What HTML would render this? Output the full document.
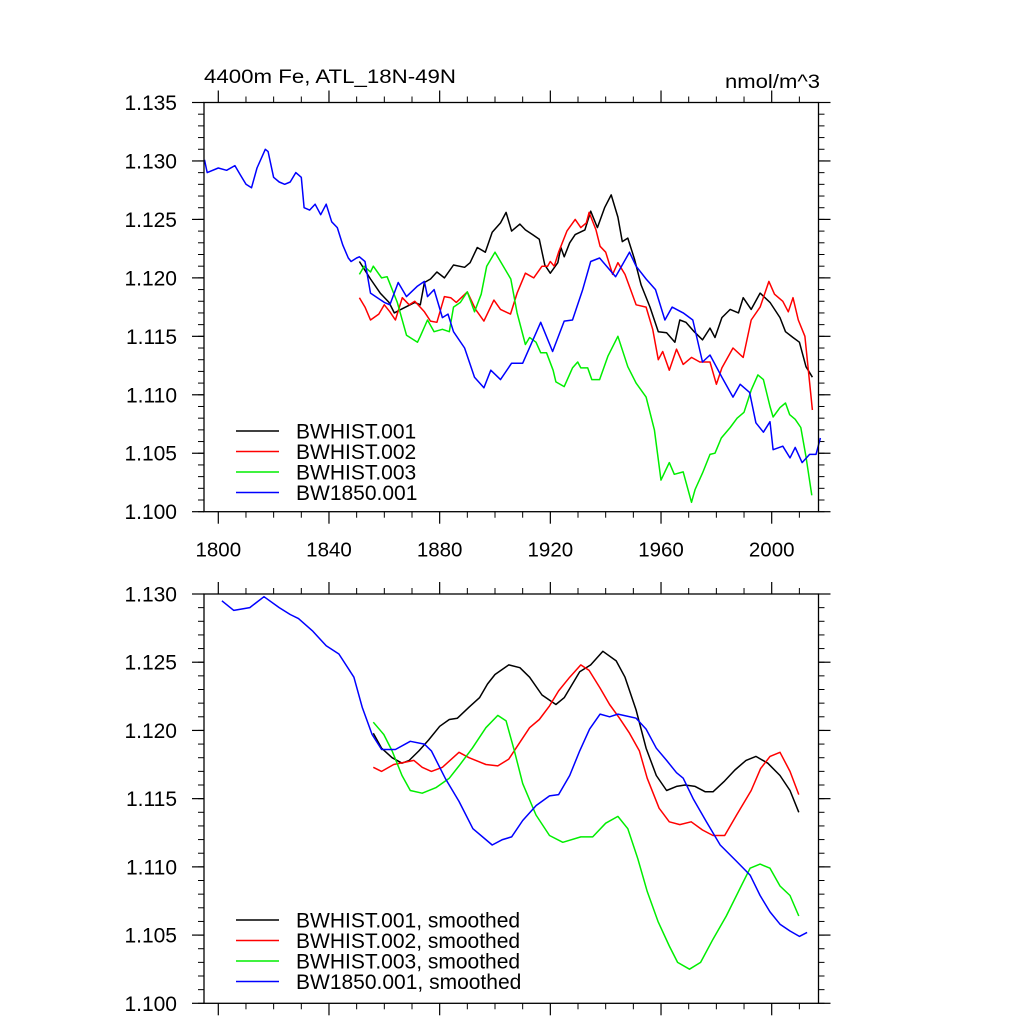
<!DOCTYPE html>
<html><head><meta charset="utf-8"><style>
html,body{margin:0;padding:0;background:#fff;}
svg{display:block;font-family:"Liberation Sans",Arial,sans-serif;}
</style></head><body>
<svg id="chart" width="1024" height="1024" viewBox="0 0 1024 1024">
<text x="204" y="83" font-size="19.5" textLength="252" lengthAdjust="spacingAndGlyphs">4400m Fe, ATL_18N-49N</text>
<text x="725" y="88" font-size="19.5" textLength="95" lengthAdjust="spacingAndGlyphs">nmol/m^3</text>
<g id="top"></g>
<g id="bot"></g>
</svg>
<script>
// ---- X axis (shared) ----
const xMajorTicks = [1800, 1840, 1880, 1920, 1960, 2000];
const xMinorTicks = [1810, 1820, 1830, 1850, 1860, 1870, 1890, 1900, 1910, 1930, 1940, 1950, 1970, 1980, 1990, 2010];
// ---- Y ticks ----
const topYTicks = [1.100, 1.105, 1.110, 1.115, 1.120, 1.125, 1.130, 1.135];
const topYLabels = ["1.100", "1.105", "1.110", "1.115", "1.120", "1.125", "1.130", "1.135"];
const botYTicks = [1.100, 1.105, 1.110, 1.115, 1.120, 1.125, 1.130];
const botYLabels = ["1.100", "1.105", "1.110", "1.115", "1.120", "1.125", "1.130"];

// ---- Top panel series ----
const topBlueYears = [1795,1796,1800,1803,1806,1808,1810,1812,1814,1817,1818,1820,1822,1824,1826,1828,1830,1831,1833,1835,1837,1839,1841,1843,1845,1847,1848,1850,1851,1853,1855,1860,1862,1865,1868,1872,1874.5,1875.6,1878,1881,1883,1885,1889,1892.6,1896,1898.5,1902,1906,1910,1916.5,1920.8,1925,1928,1931.7,1934.6,1937.8,1943.6,1948.6,1951,1954.6,1958,1961.4,1964,1968,1971.5,1975,1977.7,1982,1986,1988.6,1992,1994.3,1997,1999.4,2000.5,2004,2006.6,2008.5,2011,2013.7,2016,2017.6];
const topBlueValues = [1.1301,1.1290,1.1294,1.1292,1.1296,1.1288,1.1280,1.1277,1.1294,1.1310,1.1308,1.1286,1.1282,1.1280,1.1282,1.1290,1.1286,1.1260,1.1258,1.1263,1.1254,1.1263,1.1248,1.1243,1.1228,1.1217,1.1214,1.1217,1.1218,1.1214,1.1187,1.1179,1.1177,1.1196,1.1184,1.1193,1.1197,1.1184,1.1190,1.1166,1.1169,1.1154,1.1140,1.1115,1.1106,1.1121,1.1113,1.1127,1.1127,1.1162,1.1137,1.1163,1.1164,1.1190,1.1214,1.1217,1.1201,1.1222,1.1210,1.1199,1.1190,1.1164,1.1175,1.1170,1.1164,1.1128,1.1134,1.1115,1.1098,1.1109,1.1102,1.1076,1.1068,1.1077,1.1053,1.1056,1.1046,1.1055,1.1042,1.1049,1.1049,1.1063];

const topBlackYears = [1851,1855,1858.5,1861.7,1863.6,1866,1871,1873,1874.5,1876.7,1879,1881.7,1885,1889,1891,1893.6,1896.5,1899,1902,1904,1906,1909,1911,1913.6,1916,1918,1920,1922.7,1923.8,1925,1927,1929,1932.5,1934.6,1937,1939.6,1942,1944.4,1946,1948,1950.4,1952.8,1956,1959,1962,1965,1966.8,1969,1972,1975,1977.7,1979.5,1982,1985,1988,1989.7,1992.6,1995.8,1999.4,2003,2005,2007.7,2010,2012.4,2014.7];
const topBlackValues = [1.1214,1.1199,1.1187,1.1179,1.1170,1.1173,1.1179,1.1177,1.1196,1.1199,1.1205,1.1200,1.1211,1.1209,1.1213,1.1226,1.1222,1.1239,1.1247,1.1256,1.1240,1.1246,1.1241,1.1237,1.1233,1.1211,1.1204,1.1213,1.1226,1.1218,1.1230,1.1237,1.1241,1.1257,1.1243,1.1260,1.1271,1.1252,1.1231,1.1234,1.1216,1.1194,1.1175,1.1154,1.1153,1.1145,1.1164,1.1162,1.1154,1.1147,1.1157,1.1149,1.1166,1.1173,1.1170,1.1183,1.1173,1.1187,1.1179,1.1166,1.1154,1.1149,1.1145,1.1124,1.1115];

const topRedYears = [1851,1853,1855,1858,1860,1862,1864,1866.5,1869,1871,1874.5,1876.7,1879,1881.7,1884,1886,1890,1893,1896,1899.6,1902,1905.6,1908,1911,1914,1917,1919,1920,1921.4,1923,1926,1929,1931,1933,1934,1936.5,1938,1940,1942.5,1944.4,1947,1949,1951,1954.6,1957,1959,1960.6,1963,1965.6,1968,1971,1974,1977.7,1980,1982,1986,1989.7,1992.6,1995.8,1999,2001,2004,2006,2007.7,2009.6,2012,2014.7];
const topRedValues = [1.1183,1.1175,1.1164,1.1169,1.1177,1.1171,1.1164,1.1183,1.1177,1.1180,1.1171,1.1163,1.1162,1.1184,1.1183,1.1179,1.1188,1.1173,1.1163,1.1181,1.1173,1.1169,1.1187,1.1204,1.1200,1.1210,1.1210,1.1214,1.1210,1.1222,1.1240,1.1250,1.1243,1.1247,1.1256,1.1241,1.1227,1.1222,1.1203,1.1213,1.1203,1.1190,1.1177,1.1175,1.1156,1.1130,1.1137,1.1121,1.1139,1.1126,1.1132,1.1128,1.1128,1.1109,1.1123,1.1140,1.1132,1.1164,1.1175,1.1197,1.1186,1.1180,1.1171,1.1183,1.1164,1.1150,1.1087];

const topGreenYears = [1851,1852.7,1855,1856,1859,1861,1864.7,1868,1872,1873,1875.6,1878,1881,1883.5,1885,1887.5,1890,1892.6,1895,1897,1900,1903,1905.7,1908,1911,1912.5,1914.8,1916.5,1918.6,1921,1922,1925,1928,1929.9,1931,1933.5,1935,1937.8,1940.8,1944.4,1948,1951,1954.6,1957.6,1960,1963,1964.8,1968,1971,1972.3,1975,1977.7,1979.5,1981.8,1985,1987.5,1990,1992.6,1995,1997,1999.4,2000.5,2003,2005,2006.5,2008.5,2010.5,2012.4,2014.5];
const topGreenValues = [1.1203,1.1210,1.1205,1.1210,1.1200,1.1201,1.1179,1.1151,1.1145,1.1150,1.1164,1.1154,1.1156,1.1154,1.1175,1.1179,1.1188,1.1171,1.1186,1.1210,1.1222,1.1210,1.1199,1.1170,1.1143,1.1149,1.1145,1.1136,1.1136,1.1121,1.1111,1.1107,1.1123,1.1128,1.1123,1.1123,1.1113,1.1113,1.1133,1.1150,1.1124,1.1110,1.1098,1.1070,1.1027,1.1042,1.1032,1.1034,1.1008,1.1019,1.1033,1.1049,1.1050,1.1063,1.1072,1.1080,1.1085,1.1104,1.1117,1.1113,1.1090,1.1081,1.1089,1.1093,1.1083,1.1079,1.1072,1.1047,1.1014];

// ---- Bottom panel (smoothed) series ----
const botBlueYears = [1801.3,1805.6,1811.4,1816.5,1822,1826,1829,1834,1839,1843.6,1849,1852,1855.6,1859,1864,1869.4,1874.5,1877,1882,1887,1892,1899,1902.7,1906,1910,1914.9,1919.7,1923,1927,1930.6,1934.2,1938,1941.4,1944.4,1951,1954.6,1958.3,1962,1965.6,1968,1971.6,1976.4,1981.4,1987.3,1992.2,1995.8,1999.4,2003,2006.6,2010,2012.8];
const botBlueValues = [1.1295,1.1288,1.1290,1.1298,1.1290,1.1285,1.1282,1.1273,1.1262,1.1256,1.1239,1.1217,1.1197,1.1186,1.1186,1.1192,1.1190,1.1185,1.1165,1.1148,1.1128,1.1116,1.1120,1.1122,1.1134,1.1145,1.1152,1.1153,1.1167,1.1185,1.1201,1.1212,1.1210,1.1212,1.1209,1.1201,1.1187,1.1178,1.1169,1.1165,1.1150,1.1133,1.1116,1.1104,1.1094,1.1079,1.1067,1.1058,1.1053,1.1049,1.1052];

const botBlackYears = [1856,1859,1862.8,1866.4,1869,1872.5,1876,1880,1883.5,1886.4,1890.6,1894.4,1897.3,1900,1905,1909,1912.5,1917,1922,1925,1930.6,1934.6,1939,1943.8,1947,1951,1954.6,1958.3,1962,1965.6,1968.7,1972.3,1976,1978.8,1983,1986.7,1990.7,1994.3,1998.6,2003,2006.6,2009.8];
const botBlackValues = [1.1198,1.1187,1.1180,1.1176,1.1178,1.1185,1.1193,1.1203,1.1208,1.1209,1.1217,1.1224,1.1234,1.1241,1.1248,1.1246,1.1239,1.1226,1.1219,1.1224,1.1243,1.1248,1.1258,1.1251,1.1239,1.1215,1.1187,1.1167,1.1156,1.1159,1.1160,1.1159,1.1155,1.1155,1.1163,1.1171,1.1178,1.1181,1.1176,1.1167,1.1156,1.1140];

const botRedYears = [1856,1859,1863.4,1870.7,1873.7,1877,1881,1887,1890.6,1896.7,1901,1905,1907.6,1912.5,1916,1919.7,1923,1927,1931,1934,1938,1941.4,1945,1948.6,1952.2,1955,1959.3,1963,1966.8,1970.9,1975,1978.8,1983,1987.3,1992.6,1996,1999.4,2003,2006.6,2009.8];
const botRedValues = [1.1173,1.1170,1.1175,1.1178,1.1173,1.1170,1.1173,1.1184,1.1180,1.1175,1.1174,1.1179,1.1187,1.1202,1.1208,1.1218,1.1229,1.1239,1.1248,1.1244,1.1231,1.1219,1.1209,1.1198,1.1185,1.1165,1.1143,1.1133,1.1131,1.1133,1.1127,1.1123,1.1123,1.1138,1.1156,1.1172,1.1181,1.1184,1.1170,1.1153];

const botGreenYears = [1856,1859.8,1862.8,1866.4,1869.4,1873.7,1878.6,1883.5,1887,1891.8,1896.7,1901,1904,1907,1910,1914.8,1919.7,1924.5,1931,1935.3,1940,1944.4,1948,1951.6,1955,1958.9,1963,1966,1970.3,1974.3,1978.8,1983.6,1988,1992.2,1995.8,1999.4,2003,2006.6,2009.8];
const botGreenValues = [1.1206,1.1197,1.1185,1.1167,1.1156,1.1154,1.1158,1.1165,1.1174,1.1187,1.1202,1.1211,1.1207,1.1185,1.1161,1.1138,1.1123,1.1118,1.1122,1.1122,1.1132,1.1137,1.1128,1.1106,1.1082,1.1060,1.1042,1.1030,1.1025,1.1030,1.1047,1.1064,1.1082,1.1099,1.1102,1.1099,1.1086,1.1079,1.1064];

const topLegendLabels = ["BWHIST.001", "BWHIST.002", "BWHIST.003", "BW1850.001"];
const botLegendLabels = ["BWHIST.001, smoothed", "BWHIST.002, smoothed", "BWHIST.003, smoothed", "BW1850.001, smoothed"];
const seriesColors = ["#000000", "#ff0000", "#00ee00", "#0000ff"];

const NS = "http://www.w3.org/2000/svg";
const L = 204, R = 818.5;
function xScale(yr){ return 218.3 + (yr - 1800) * 2.767; }
function mk(tag, attrs, parent){
  const e = document.createElementNS(NS, tag);
  for (const k in attrs) e.setAttribute(k, attrs[k]);
  parent.appendChild(e); return e;
}

function drawPanel(g, top, bottom, vmin, vmax, yTicks, yLabels, showXLabels, series, legendLabels, legendY){
  const yScale = v => bottom - (v - vmin) / (vmax - vmin) * (bottom - top);
  for (let v = vmin; v <= vmax + 1e-9; v += 0.001) {
    const y = yScale(v);
    const t1 = mk('line', {x1: L - 6, x2: L, y1: y, y2: y, stroke: '#000', 'stroke-width': 1}, g);
    
    
    const t2 = mk('line', {x1: R, x2: R + 6, y1: y, y2: y, stroke: '#000', 'stroke-width': 1}, g);
    
    
  }
  yTicks.forEach((v, i) => {
    const y = yScale(v);
    const t1 = mk('line', {x1: L - 12, x2: L, y1: y, y2: y, stroke: '#000', 'stroke-width': 1.2}, g);
    
    
    const t2 = mk('line', {x1: R, x2: R + 12, y1: y, y2: y, stroke: '#000', 'stroke-width': 1.2}, g);
    
    
    const tx = mk('text', {x: 177, y: y + 7.5, 'font-size': 21, 'text-anchor': 'end'}, g);
    tx.textContent = yLabels[i];
    
    
  });
  xMinorTicks.forEach(yr => {
    const x = xScale(yr);
    const a = mk('line', {x1: x, x2: x, y1: bottom, y2: bottom + 6, stroke: '#000', 'stroke-width': 1}, g);
    
    
    const b = mk('line', {x1: x, x2: x, y1: top - 6, y2: top, stroke: '#000', 'stroke-width': 1}, g);
    
    
  });
  xMajorTicks.forEach(yr => {
    const x = xScale(yr);
    const a = mk('line', {x1: x, x2: x, y1: bottom, y2: bottom + 12, stroke: '#000', 'stroke-width': 1.2}, g);
    
    
    const b = mk('line', {x1: x, x2: x, y1: top - 12, y2: top, stroke: '#000', 'stroke-width': 1.2}, g);
    
    
    if (showXLabels) {
      const tx = mk('text', {x: x, y: bottom + 45, 'font-size': 20.5, 'text-anchor': 'middle'}, g);
      tx.textContent = String(yr);
      
      
    }
  });
  series.forEach((s, i) => {
    const pts = s[0].map((yr, j) => xScale(yr).toFixed(1) + ',' + yScale(s[1][j]).toFixed(1)).join(' ');
    const pl = mk('polyline', {points: pts, fill: 'none', stroke: seriesColors[i], 'stroke-width': 1.5, 'stroke-linejoin': 'round'}, g);
    
    
  });
  const fr = mk('rect', {x: L, y: top, width: R - L, height: bottom - top, fill: 'none', stroke: '#000', 'stroke-width': 1.3}, g);
  
  
  const lg = mk('g', {}, g);
  
  
  legendLabels.forEach((lab, i) => {
    const y = legendY + i * 20.5;
    const ln = mk('line', {x1: 236, x2: 279, y1: y, y2: y, stroke: seriesColors[i], 'stroke-width': 1.5}, lg);
    
    
    const tx = mk('text', {x: 296, y: y + 7.5, 'font-size': 21}, lg);
    tx.textContent = lab;
    
    
  });
}

drawPanel(document.getElementById('top'), 102.5, 511.7, 1.100, 1.135, topYTicks, topYLabels, true,
  [[topBlackYears, topBlackValues], [topRedYears, topRedValues], [topGreenYears, topGreenValues], [topBlueYears, topBlueValues]],
  topLegendLabels, 431);
drawPanel(document.getElementById('bot'), 594, 1003.3, 1.100, 1.130, botYTicks, botYLabels, false,
  [[botBlackYears, botBlackValues], [botRedYears, botRedValues], [botGreenYears, botGreenValues], [botBlueYears, botBlueValues]],
  botLegendLabels, 920);
</script>
</body></html>
